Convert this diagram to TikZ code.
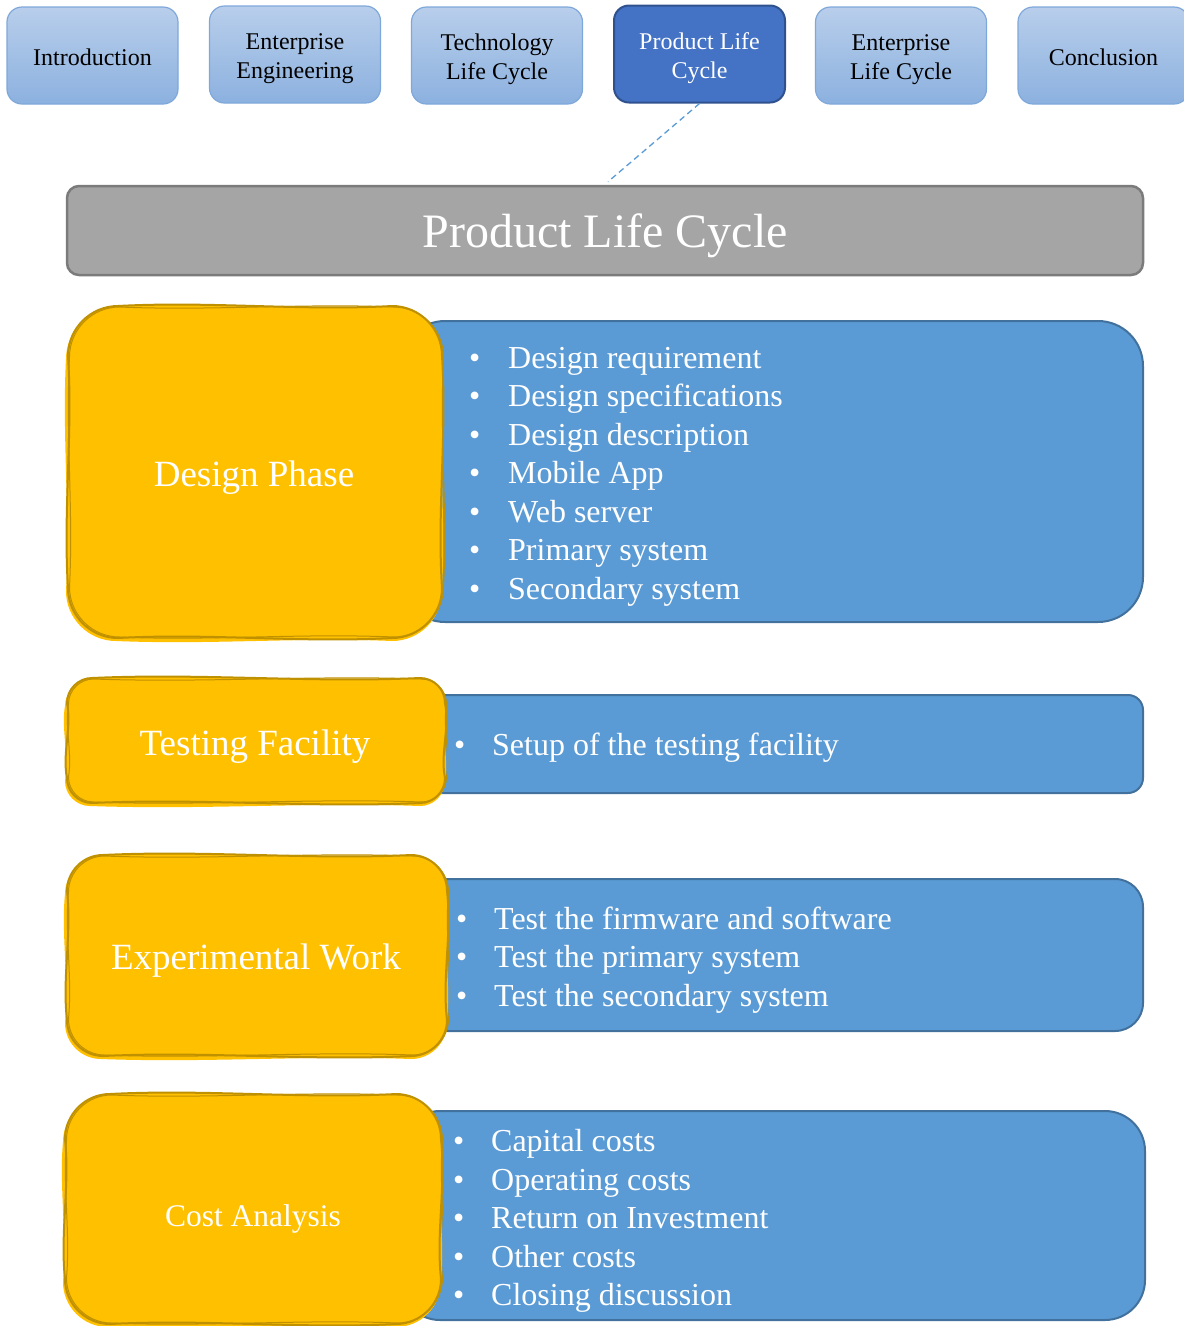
\documentclass[tikz,border=0pt]{standalone}
\usepackage{fontspec}
\setmainfont{Liberation Serif}

\definecolor{tabtop}{HTML}{B8CEEB}
\definecolor{tabbot}{HTML}{8CB1DF}
\definecolor{tabline}{HTML}{7FA8DA}
\definecolor{plcfill}{HTML}{4472C4}
\definecolor{plcline}{HTML}{2F528F}
\definecolor{barfill}{HTML}{A5A5A5}
\definecolor{barline}{HTML}{7B7B7B}
\definecolor{bluefill}{HTML}{5B9BD5}
\definecolor{blueline}{HTML}{41719C}
\definecolor{yfill}{HTML}{FFC000}
\definecolor{yline}{HTML}{BF9000}

% hand-drawn rounded box: x1 y1 x2 y2 radius wobble style
\newcommand\sketchbox[7]{%
  \path[#7]
  ({#1+#5},{#2})
  .. controls ({#1+#5+(#3-#1-2*#5)/3},{#2-#6}) and ({#1+#5+2*(#3-#1-2*#5)/3},{#2+#6}) .. ({#3-#5},{#2})
  .. controls ({#3-0.45*#5},{#2}) and ({#3},{#2+0.45*#5}) .. ({#3},{#2+#5})
  .. controls ({#3+#6},{#2+#5+(#4-#2-2*#5)/3}) and ({#3-#6},{#2+#5+2*(#4-#2-2*#5)/3}) .. ({#3},{#4-#5})
  .. controls ({#3},{#4-0.45*#5}) and ({#3-0.45*#5},{#4}) .. ({#3-#5},{#4})
  .. controls ({#3-#5-(#3-#1-2*#5)/3},{#4+#6}) and ({#3-#5-2*(#3-#1-2*#5)/3},{#4-#6}) .. ({#1+#5},{#4})
  .. controls ({#1+0.45*#5},{#4}) and ({#1},{#4-0.45*#5}) .. ({#1},{#4-#5})
  .. controls ({#1-#6},{#4-#5-(#4-#2-2*#5)/3}) and ({#1+#6},{#4-#5-2*(#4-#2-2*#5)/3}) .. ({#1},{#2+#5})
  .. controls ({#1},{#2+0.45*#5}) and ({#1+0.45*#5},{#2}) .. cycle;
}

\newcommand\phasebox[5]{% x1 y1 x2 y2 radius
  \sketchbox{#1-2}{#2+3}{#3}{#4+3}{#5}{-4}{fill=yfill}
  \sketchbox{#1}{#2}{#3}{#4}{#5}{5}{fill=yfill, draw=yline, line width=2pt}
  \sketchbox{#1+1.5}{#2+1}{#3+1.5}{#4-1}{#5}{-4}{draw=yline, line width=1pt}
}

% invisible struts that set the first-line height inside the tabs
\newcommand\onestrut{\rule{0pt}{20.4pt}}
\newcommand\twostrut{\rule{0pt}{24.5pt}}

\tikzset{
  tabbase/.style={rounded corners=15pt, minimum width=171pt, minimum height=97pt,
    align=center, inner sep=0pt, font=\fontsize{24}{29}\selectfont},
  tab/.style={tabbase, top color=tabtop, bottom color=tabbot, draw=tabline,
    line width=1.2pt, text=black},
  curtab/.style={tabbase, fill=plcfill, draw=plcline, line width=2pt, text=white},
  titlebar/.style={rounded corners=12pt, minimum width=1076pt, minimum height=89pt,
    fill=barfill, draw=barline, line width=2.5pt, text=white, inner sep=0pt,
    text depth=0pt, font=\fontsize{48}{54}\selectfont},
  detailbox/.style={fill=bluefill, draw=blueline, line width=2pt, inner sep=0pt},
  phaselabel/.style={text=white, inner sep=0pt, font=\fontsize{37}{42}\selectfont},
  listtext/.style={text=white, inner sep=0pt, align=left, anchor=west,
    font=\fontsize{32}{38.5}\selectfont},
  link/.style={dashed, draw=bluefill, line width=1.3pt, dash pattern=on 6pt off 4pt}
}

\newcommand\bul[1]{\makebox[#1][l]{\textbullet}}

\begin{document}
\begin{tikzpicture}[x=1pt, y=-1pt]
\useasboundingbox (0,0) rectangle (1184,1326);

% navigation tabs
\node[tab] (intro) at (92.5,55.5) {\onestrut Introduction};
\node[tab] (enteng) at (295,54.5) {\twostrut Enterprise\\Engineering};
\node[tab] (techlc) at (497,55.5) {\twostrut Technology\\Life Cycle};
\node[curtab] (prodlc) at (699.5,54) {\twostrut Product Life\\Cycle};
\node[tab] (entlc) at (901,55.5) {\twostrut Enterprise\\Life Cycle};
\node[tab] (concl) at (1103.5,55.5) {\onestrut Conclusion};

% section title
\node[titlebar] (title) at (605,230.5) {Product Life Cycle};
\draw[link] (prodlc.south) -- ([xshift=3pt,yshift=3pt]title.north);

% detail panels
\node[detailbox, rounded corners=45pt, minimum width=743pt, minimum height=301pt] (det1) at (771.5,471.5) {};
\node[detailbox, rounded corners=15pt, minimum width=723pt, minimum height=98pt] (det2) at (781.5,744) {};
\node[detailbox, rounded corners=28pt, minimum width=723pt, minimum height=152pt] (det3) at (781.5,955) {};
\node[detailbox, rounded corners=40pt, minimum width=745pt, minimum height=209pt] (det4) at (772.5,1215.5) {};

% phase shapes
\phasebox{68}{306}{442}{638}{50}
\phasebox{67}{678}{445}{803}{25}
\phasebox{67}{855}{447}{1056}{36}
\phasebox{65}{1094}{441}{1324}{45}

\node[phaselabel] (ph1) at (254,478) {Design Phase};
\node[phaselabel] (ph2) at (255,747) {Testing Facility};
\node[phaselabel] (ph3) at (256,961) {Experimental Work};
\node[phaselabel, font=\fontsize{31.5}{36}\selectfont] (ph4) at (253,1219) {Cost Analysis};

% bullet lists
\node[listtext] (list1) at (469,476.5) {%
  \bul{39pt}Design requirement\\
  \bul{39pt}Design specifications\\
  \bul{39pt}Design description\\
  \bul{39pt}Mobile App\\
  \bul{39pt}Web server\\
  \bul{39pt}Primary system\\
  \bul{39pt}Secondary system};
\node[listtext] (list2) at (454,748) {\bul{38pt}Setup of the testing facility};
\node[listtext] (list3) at (456,960) {%
  \bul{38pt}Test the firmware and software\\
  \bul{38pt}Test the primary system\\
  \bul{38pt}Test the secondary system};
\node[listtext] (list4) at (453,1221) {%
  \bul{38pt}Capital costs\\
  \bul{38pt}Operating costs\\
  \bul{38pt}Return on Investment\\
  \bul{38pt}Other costs\\
  \bul{38pt}Closing discussion};
\end{tikzpicture}
\end{document}
